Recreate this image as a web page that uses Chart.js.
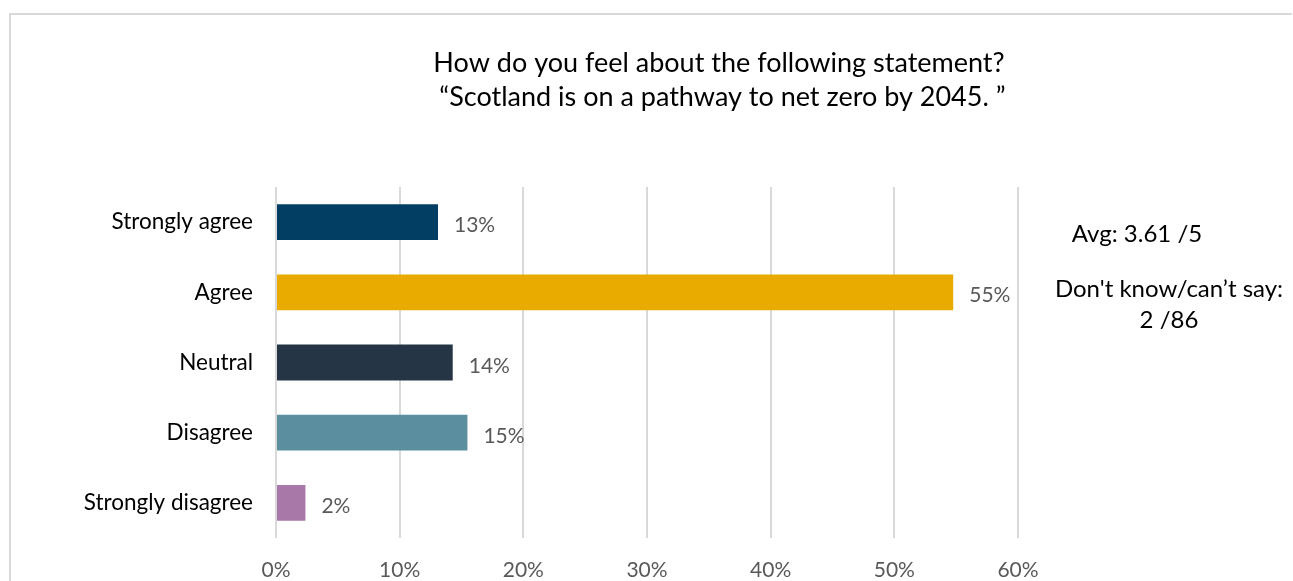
<!DOCTYPE html>
<html>
<head>
<meta charset="utf-8">
<script src="https://cdn.jsdelivr.net/npm/chart.js@4.4.1/dist/chart.umd.min.js"></script>
<style>
  html, body { margin: 0; padding: 0; background: #ffffff; }
  #wrap { position: relative; width: 1293px; height: 581px; }
</style>
</head>
<body>
<div id="wrap"><canvas id="c" width="1293" height="581"></canvas></div>
<script>
// Survey responses (share of respondents, %), 84 answers excluding "don't know"
const categories = ['Strongly agree', 'Agree', 'Neutral', 'Disagree', 'Strongly disagree'];
const shares = [13.10, 54.76, 14.29, 15.48, 2.38];
const barColors = ['#023e63', '#eaab00', '#253545', '#5b8fa0', '#a878a8'];
const xTicks = [0, 10, 20, 30, 40, 50, 60];
const titleLines = ['How do you feel about the following statement?', ' \u201cScotland is on a pathway to net zero by 2045. \u201d'];
const sideNotes = [
  { text: 'Avg: 3.61 /5', x: 1137, y: 242 },
  { text: 'Don\'t know/can\u2019t say:', x: 1169, y: 297 },
  { text: '2 /86', x: 1169, y: 328 }
];

const FONT = 'Lato, "Open Sans", sans-serif';

const frame = {
  id: 'frame',
  beforeDraw(chart) {
    const ctx = chart.ctx;
    ctx.save();
    ctx.fillStyle = '#ffffff';
    ctx.fillRect(0, 0, chart.width, chart.height);
    ctx.strokeStyle = '#d9d9d9';
    ctx.lineWidth = 2;
    ctx.beginPath();
    ctx.moveTo(10, chart.height + 5);
    ctx.lineTo(10, 14);
    ctx.lineTo(chart.width - 1, 14);
    ctx.stroke();
    ctx.restore();
  }
};

const texts = {
  id: 'texts',
  afterDraw(chart) {
    const ctx = chart.ctx;
    ctx.save();
    ctx.fillStyle = '#000000';
    ctx.textBaseline = 'alphabetic';
    ctx.textAlign = 'center';
    ctx.font = '27px ' + FONT;
    ctx.fillText(titleLines[0], 719, 72);
    ctx.fillText(titleLines[1], 719, 106);
    ctx.font = '24px ' + FONT;
    sideNotes.forEach(n => ctx.fillText(n.text, n.x, n.y));
    // value labels at bar ends
    const meta = chart.getDatasetMeta(0);
    ctx.fillStyle = '#595959';
    ctx.textAlign = 'left';
    ctx.font = '21px ' + FONT;
    meta.data.forEach((bar, i) => {
      ctx.fillText(Math.round(shares[i]) + '%', bar.x + 16, bar.y + 10);
    });
    ctx.restore();
  }
};

new Chart(document.getElementById('c'), {
  type: 'bar',
  data: {
    labels: categories,
    datasets: [{
      data: shares,
      backgroundColor: barColors,
      borderWidth: 0,
      categoryPercentage: 1,
      barPercentage: 0.51
    }]
  },
  options: {
    indexAxis: 'y',
    responsive: false,
    animation: false,
    devicePixelRatio: 1,
    layout: { padding: { top: 187, right: 275, bottom: 0, left: 0 } },
    plugins: { legend: { display: false }, tooltip: { enabled: false }, title: { display: false } },
    scales: {
      x: {
        min: 0, max: 60,
        afterBuildTicks(axis) { axis.ticks = xTicks.map(v => ({ value: v })); },
        afterFit(axis) { axis.height = 43; },
        grid: { color: '#d9d9d9', lineWidth: 2, drawTicks: false },
        border: { display: false },
        ticks: {
          color: '#595959',
          font: { family: FONT, size: 21 },
          padding: 20,
          callback: v => v + '%'
        }
      },
      y: {
        afterFit(axis) { axis.width = 276; },
        grid: { display: false, drawTicks: false },
        border: { display: false },
        ticks: {
          color: '#000000',
          font: { family: FONT, size: 22.5 },
          padding: 23
        }
      }
    }
  },
  plugins: [frame, texts]
});
</script>
</body>
</html>
